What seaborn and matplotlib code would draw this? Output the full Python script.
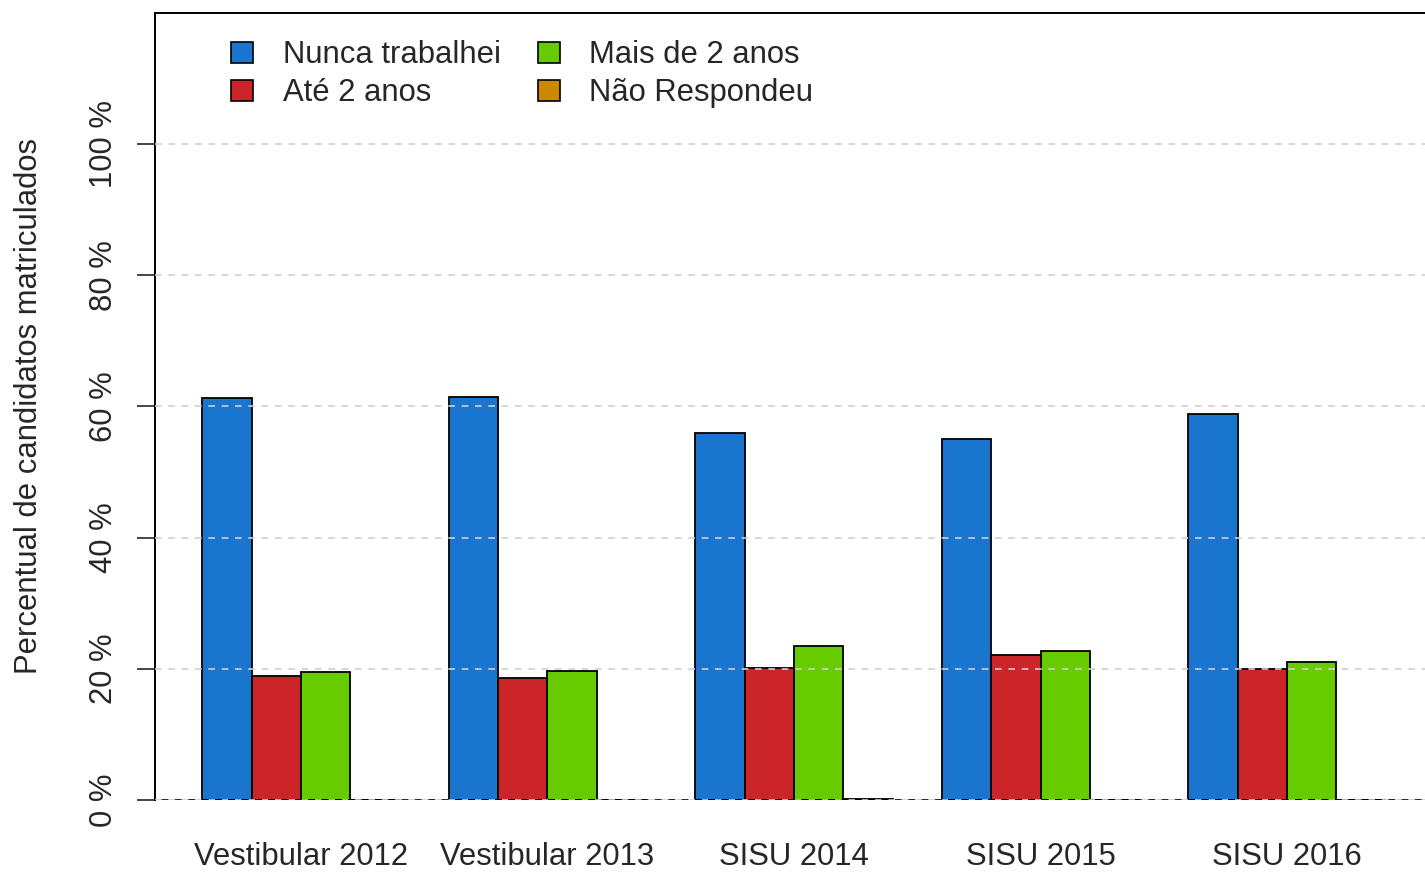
import matplotlib
matplotlib.use('Agg')
import matplotlib.pyplot as plt
from matplotlib.patches import Patch
import pandas as pd
import seaborn as sns

# dados (percentual de matriculados por tempo de trabalho)
processos = ['Vestibular 2012', 'Vestibular 2013', 'SISU 2014', 'SISU 2015', 'SISU 2016']
categorias = ['Nunca trabalhei', 'Até 2 anos', 'Mais de 2 anos', 'Não Respondeu']
nunca_trabalhei = [61.3, 61.5, 56.0, 55.0, 58.8]
ate_2_anos = [18.9, 18.6, 20.2, 22.1, 20.0]
mais_de_2_anos = [19.5, 19.7, 23.5, 22.7, 21.1]
nao_respondeu = [0.0, 0.0, 0.2, 0.0, 0.0]
cores = ['#1a75cf', '#cc2529', '#66cc00', '#cc8800']
marcas_y = [0, 20, 40, 60, 80, 100]

series = [nunca_trabalhei, ate_2_anos, mais_de_2_anos, nao_respondeu]
linhas = []
for cat, vals in zip(categorias, series):
    for proc, v in zip(processos, vals):
        linhas.append({'Processo': proc, 'Categoria': cat, 'Percentual': v})
df = pd.DataFrame(linhas)

sns.set_style('white')
plt.rcParams['font.family'] = ['Liberation Sans', 'DejaVu Sans']

W, H = 1425, 872
fig = plt.figure(figsize=(W / 100, H / 100), dpi=100)
ax = fig.add_axes([155 / W, (H - 800) / H, (1433 - 155) / W, (800 - 13) / H])

sns.barplot(data=df, x='Processo', y='Percentual', hue='Categoria',
            order=processos, hue_order=categorias, palette=cores,
            width=0.8, edgecolor='black', linewidth=1.3, saturation=1,
            legend=False, ax=ax, zorder=2)

# grade tracejada por cima das barras
for v in marcas_y:
    ax.axhline(v, color='#d0d0d0', linestyle=(0, (4, 4)), linewidth=1.2, zorder=3)
ax.axhline(0, color='black', linestyle=(4, (4, 4)), linewidth=1.2, zorder=4)

ax.set_xlim(-0.592, 4.592)
ax.set_ylim(0, 120)
ax.set_yticks(marcas_y)
ax.set_yticklabels([f'{v} %' for v in marcas_y], rotation=90, va='center')
ax.tick_params(axis='y', length=13, width=1.2, pad=13, labelsize=22.3, left=True)
ax.tick_params(axis='x', length=0, pad=30, labelsize=22.3)
ax.set_xlabel('')
ax.set_ylabel('Percentual de candidatos matriculados', fontsize=22.3, labelpad=32)

for lado in ['left', 'top', 'right']:
    ax.spines[lado].set_visible(True)
    ax.spines[lado].set_color('black')
    ax.spines[lado].set_linewidth(1.4)
ax.spines['bottom'].set_visible(False)

handles = [Patch(facecolor=c, edgecolor='black', linewidth=1.2) for c in cores]
ax.legend(handles, categorias, ncol=2, frameon=False, fontsize=22.3,
          loc='upper left', bbox_to_anchor=(61 / 1278, 1 - 12 / 787),
          borderpad=0, handlelength=0.7, handleheight=0.65,
          handletextpad=0.95, columnspacing=1.22, labelspacing=0.25)

plt.savefig('out.png', dpi=100)
